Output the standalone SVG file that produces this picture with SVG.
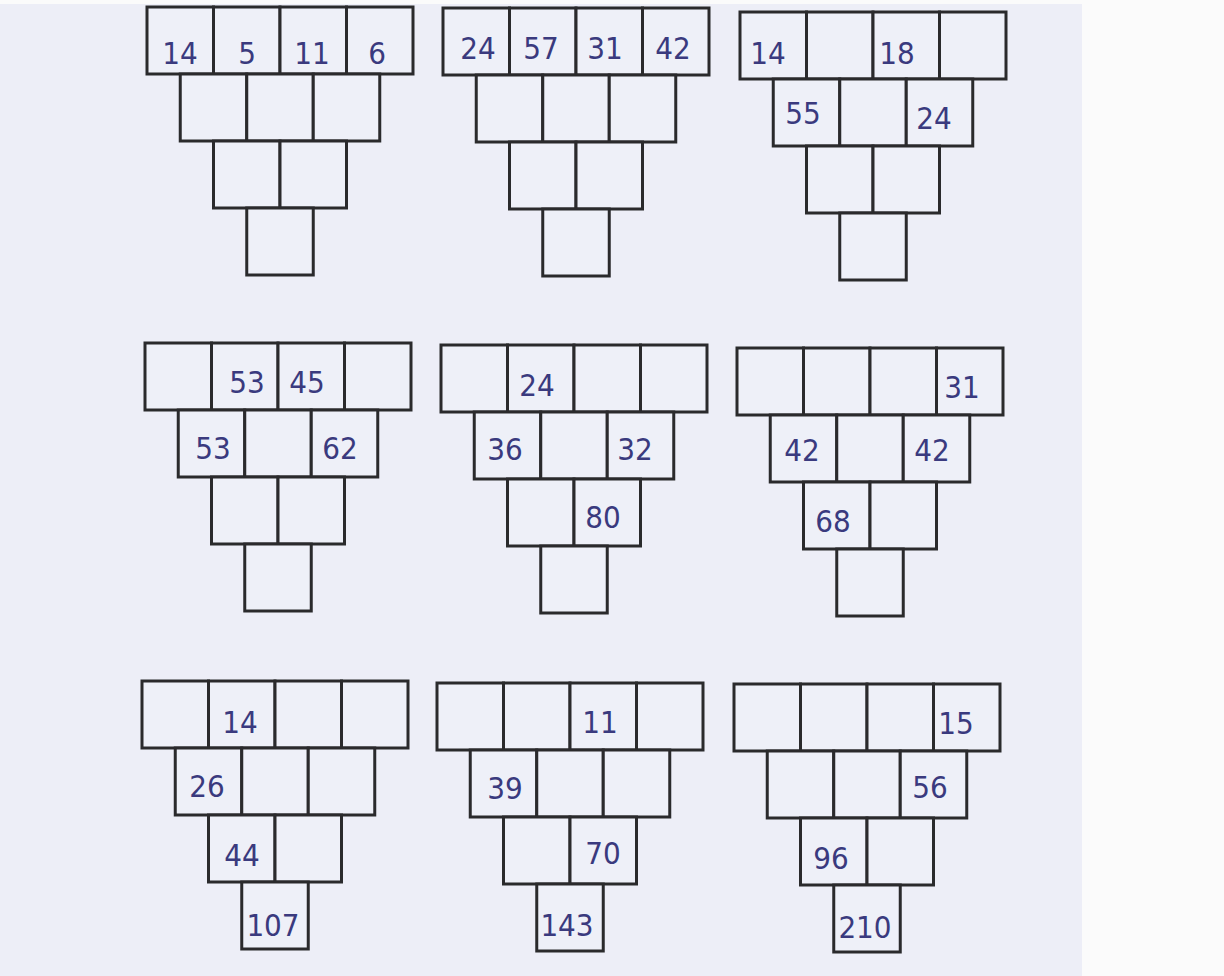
<svg xmlns="http://www.w3.org/2000/svg" xmlns:xlink="http://www.w3.org/1999/xlink" width="1224" height="976" viewBox="0 0 1224 976">
<style>
.cell{fill:#eef0f8;stroke:#2a2a2c;stroke-width:3;stroke-linejoin:miter}
.num{font-family:"DejaVu Sans Condensed","DejaVu Sans","Liberation Sans",sans-serif;font-size:31px;font-weight:300;fill:#3a3a7e;text-anchor:middle}
</style>
<defs>
<g id="grid">
<rect class="cell" x="0" y="0" width="66.5" height="67"/>
<rect class="cell" x="66.5" y="0" width="66.5" height="67"/>
<rect class="cell" x="133" y="0" width="66.5" height="67"/>
<rect class="cell" x="199.5" y="0" width="66.5" height="67"/>
<rect class="cell" x="33.25" y="67" width="66.5" height="67"/>
<rect class="cell" x="99.75" y="67" width="66.5" height="67"/>
<rect class="cell" x="166.25" y="67" width="66.5" height="67"/>
<rect class="cell" x="66.5" y="134" width="66.5" height="67"/>
<rect class="cell" x="133" y="134" width="66.5" height="67"/>
<rect class="cell" x="99.75" y="201" width="66.5" height="67"/>
</g>
</defs>
<rect x="0" y="0" width="1224" height="976" fill="#fbfbfb"/>
<rect x="0" y="4" width="1082" height="972" fill="#edeef7"/>
<g id="connectors"/>
<g id="pyramid1" transform="translate(147,7)">
<use href="#grid"/>
<text class="num" x="33" y="57">14</text>
<text class="num" x="100" y="57">5</text>
<text class="num" x="165" y="57">11</text>
<text class="num" x="230" y="57">6</text>
</g>
<g id="pyramid2" transform="translate(443,8)">
<use href="#grid"/>
<text class="num" x="35" y="51">24</text>
<text class="num" x="98" y="51">57</text>
<text class="num" x="162" y="51">31</text>
<text class="num" x="230" y="51">42</text>
</g>
<g id="pyramid3" transform="translate(740,12)">
<use href="#grid"/>
<text class="num" x="28" y="52">14</text>
<text class="num" x="157" y="52">18</text>
<text class="num" x="63" y="112">55</text>
<text class="num" x="194" y="117">24</text>
</g>
<g id="pyramid4" transform="translate(145,343)">
<use href="#grid"/>
<text class="num" x="102" y="50">53</text>
<text class="num" x="162" y="50">45</text>
<text class="num" x="68" y="116">53</text>
<text class="num" x="195" y="116">62</text>
</g>
<g id="pyramid5" transform="translate(441,345)">
<use href="#grid"/>
<text class="num" x="96" y="51">24</text>
<text class="num" x="64" y="115">36</text>
<text class="num" x="194" y="115">32</text>
<text class="num" x="162" y="183">80</text>
</g>
<g id="pyramid6" transform="translate(737,348)">
<use href="#grid"/>
<text class="num" x="225" y="50">31</text>
<text class="num" x="65" y="113">42</text>
<text class="num" x="195" y="113">42</text>
<text class="num" x="96" y="184">68</text>
</g>
<g id="pyramid7" transform="translate(142,681)">
<use href="#grid"/>
<text class="num" x="98" y="52">14</text>
<text class="num" x="65" y="116">26</text>
<text class="num" x="100" y="185">44</text>
<text class="num" x="131" y="255">107</text>
</g>
<g id="pyramid8" transform="translate(437,683)">
<use href="#grid"/>
<text class="num" x="163" y="50">11</text>
<text class="num" x="68" y="116">39</text>
<text class="num" x="166" y="181">70</text>
<text class="num" x="130" y="253">143</text>
</g>
<g id="pyramid9" transform="translate(734,684)">
<use href="#grid"/>
<text class="num" x="222" y="50">15</text>
<text class="num" x="196" y="114">56</text>
<text class="num" x="97" y="185">96</text>
<text class="num" x="131" y="254">210</text>
</g>
</svg>
